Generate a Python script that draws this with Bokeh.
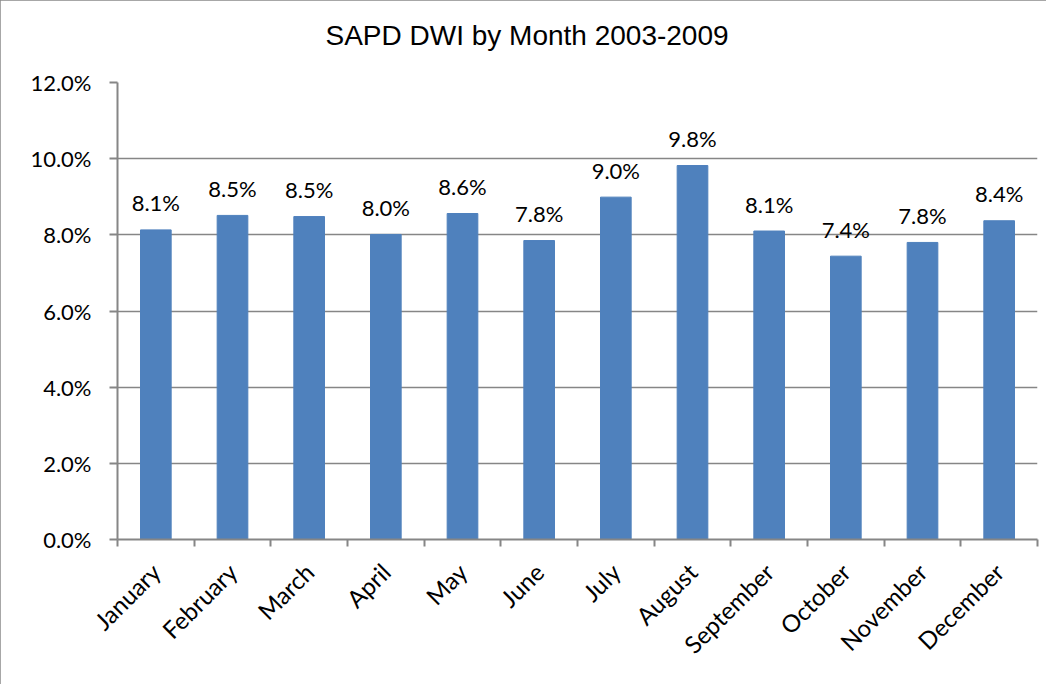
import math
from bokeh.plotting import figure
from bokeh.models import ColumnDataSource, Range1d, FixedTicker, NumeralTickFormatter
from bokeh.core.properties import value
from bokeh.embed import file_html
from bokeh.resources import INLINE

months = ["January", "February", "March", "April", "May", "June", "July",
          "August", "September", "October", "November", "December"]
dwi_share = [0.0813, 0.0851, 0.0848, 0.0801, 0.0856, 0.0785, 0.0899,
             0.0982, 0.0810, 0.0744, 0.0780, 0.0837]
y_ticks = [0.0, 0.02, 0.04, 0.06, 0.08, 0.10, 0.12]
title_text = "SAPD DWI by Month 2003-2009"

xs = [i + 0.5 for i in range(len(months))]
labels = ["%.1f%%" % (v * 100) for v in dwi_share]
src = ColumnDataSource(dict(x=xs, top=dwi_share, label=labels, month=months))

GRAY = "#868686"
LABEL_FONT = "Lato"
LABEL_SIZE = "22px"

p = figure(width=1046, height=684, output_backend="svg", toolbar_location=None,
           x_range=Range1d(0, len(months)), y_range=Range1d(0, 0.12),
           min_border_left=117, min_border_right=9, min_border_top=82,
           min_border_bottom=145)
p.styles = {"outline": "2px solid #8a8a8a", "outline-offset": "-2px"}
p.outline_line_color = None
p.background_fill_color = "white"
p.border_fill_color = "white"

p.vbar(x="x", top="top", width=0.4, source=src, fill_color="#4F81BD",
       line_color="#4F81BD")
p.text(x="x", y="top", text="label", source=src, text_align="center",
       text_baseline="alphabetic", y_offset=-27, text_font=value(LABEL_FONT),
       text_font_size=LABEL_SIZE, text_color="black")

p.title.text = title_text + "\n"
p.title.text_font = "Liberation Sans"
p.title.text_font_size = "28px"
p.title.text_font_style = "normal"
p.title.text_color = "black"
p.title.align = "left"
p.title.offset = 208
p.title.standoff = 2

# x axis: labels at bar centres, tick marks at category boundaries
xa = p.xaxis[0]
xa.ticker = FixedTicker(ticks=xs, minor_ticks=list(range(len(months) + 1)))
xa.major_label_overrides = {x: m for x, m in zip(xs, months)}
xa.major_tick_line_color = None
xa.minor_tick_line_color = GRAY
xa.minor_tick_out = 7
xa.minor_tick_in = 0
xa.minor_tick_line_width = 2
xa.axis_line_color = GRAY
xa.axis_line_width = 2
xa.major_label_orientation = math.pi / 4
xa.major_label_text_font = LABEL_FONT
xa.major_label_text_font_size = "24px"
xa.major_label_text_color = "black"
xa.major_label_standoff = 21

ya = p.yaxis[0]
ya.ticker = FixedTicker(ticks=y_ticks)
ya.formatter = NumeralTickFormatter(format="0.0%")
ya.axis_line_color = GRAY
ya.axis_line_width = 2
ya.major_tick_line_color = GRAY
ya.major_tick_line_width = 2
ya.major_tick_out = 8
ya.major_tick_in = 0
ya.minor_tick_line_color = None
ya.major_label_text_font = LABEL_FONT
ya.major_label_text_font_size = LABEL_SIZE
ya.major_label_text_color = "black"
ya.major_label_standoff = 18

p.xgrid.grid_line_color = None
p.ygrid.ticker = FixedTicker(ticks=y_ticks)
p.ygrid.grid_line_color = GRAY
p.ygrid.grid_line_width = 1.5

open("out.html", "w").write(file_html(p, INLINE))
